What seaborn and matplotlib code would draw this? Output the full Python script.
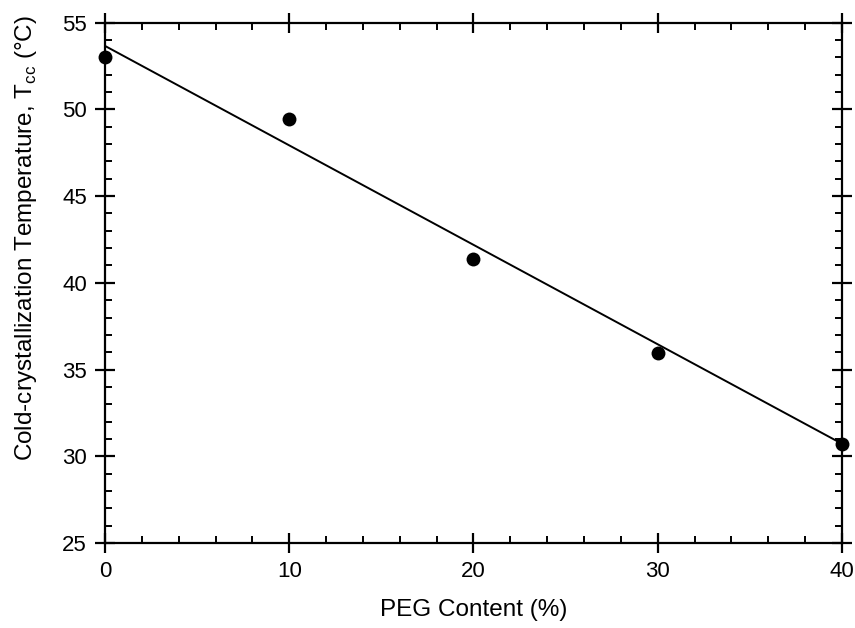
import matplotlib
matplotlib.use("Agg")
import matplotlib.pyplot as plt
import seaborn as sns
import pandas as pd
from matplotlib.ticker import MultipleLocator

peg_content = [0, 10, 20, 30, 40]
tcc = [53.04, 49.45, 41.36, 35.94, 30.72]
fit_x = [0, 40]
fit_tcc = [53.66, 30.72]

sns.set_theme(style="ticks")
plt.rcParams['font.family'] = ['Liberation Sans', 'DejaVu Sans']

fig = plt.figure(figsize=(8.55, 6.28), dpi=100)
ax = fig.add_axes([0.1228, 0.1354, 0.862, 0.8285])

df = pd.DataFrame({"x": peg_content, "y": tcc})
fit = pd.DataFrame({"x": fit_x, "y": fit_tcc})
sns.lineplot(data=fit, x="x", y="y", ax=ax, color="black", linewidth=1.4)
sns.scatterplot(data=df, x="x", y="y", ax=ax, color="black", s=100,
                edgecolor="black", linewidth=0, clip_on=False, zorder=5)

ax.set_xlim(0, 40)
ax.set_ylim(25, 55)
ax.xaxis.set_major_locator(MultipleLocator(10))
ax.xaxis.set_minor_locator(MultipleLocator(2))
ax.yaxis.set_major_locator(MultipleLocator(5))
ax.yaxis.set_minor_locator(MultipleLocator(1))
for s in ax.spines.values():
    s.set_linewidth(1.6)
    s.set_color("black")
ax.tick_params(which="major", direction="inout", length=14, width=1.6,
               top=True, right=True, labelsize=16, colors="black", pad=6)
ax.tick_params(which="minor", direction="in", length=5, width=1.4,
               top=True, right=True, colors="black")
ax.set_xlabel("PEG Content (%)", fontsize=17.5, labelpad=12, color="black")
ax.set_ylabel("Cold-crystallization Temperature, T$_{\\mathregular{cc}}$ (°C)",
              fontsize=17.5, color="black")
ax.yaxis.set_label_coords(-0.09, 0.585)

fig.savefig("out.png", dpi=100)
